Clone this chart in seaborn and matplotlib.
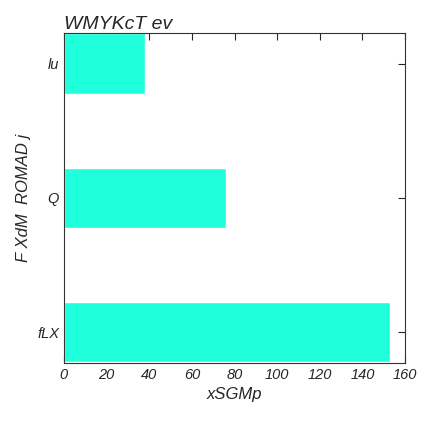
import matplotlib
matplotlib.use("Agg")
import matplotlib.pyplot as plt
import seaborn as sns
import pandas as pd

categories = ["lu", "Q", "fLX"]
values = [38, 76, 153]
bar_color = "#1fffdc"

sns.set_style("ticks")
plt.rcParams['font.family'] = ['Liberation Sans', 'DejaVu Sans']
plt.rcParams['font.style'] = 'italic'

df = pd.DataFrame({"cat": categories, "val": values})

fig = plt.figure(figsize=(4.26, 4.26), dpi=100)
ax = fig.add_axes([0.150, 0.148, 0.801, 0.775])
sns.barplot(data=df, y="cat", x="val", orient="h", color=bar_color,
            saturation=1, width=0.45, ax=ax)
ax.set_xlim(0, 160)
ax.set_ylim(2.23, -0.23)
ax.set_xticks(range(0, 161, 20))
ax.tick_params(direction="in", top=True, right=True, labelsize=10.5, length=5)
for s in ax.spines.values():
    s.set_color("#333333")
ax.set_xlabel("xSGMp", fontsize=12, style="italic")
ax.set_ylabel("F XdM  ROMAD j", fontsize=12, style="italic")
ax.set_title("WMYKcT ev", loc="left", fontsize=14, style="italic", pad=3)

plt.savefig("out.png", dpi=100)
